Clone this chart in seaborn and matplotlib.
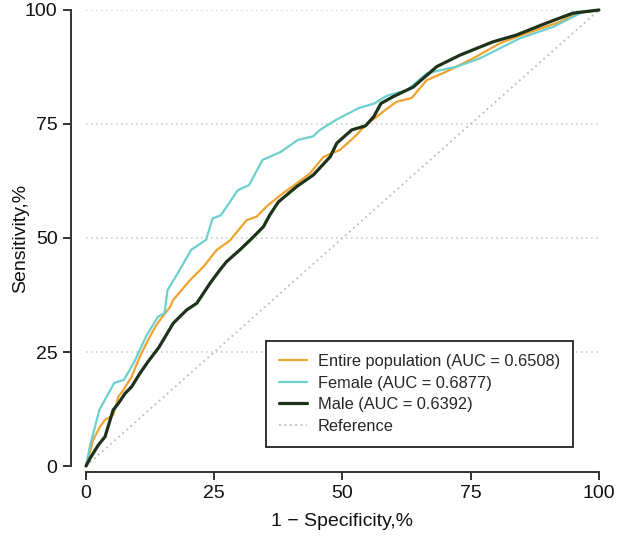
# ROC curves by sex
import pandas as pd
import seaborn as sns
import matplotlib.pyplot as plt

# values (1 - specificity %, sensitivity %)
entire_fpr = [0, 1.4, 2.7, 3.7, 5.3, 6.3, 7.3, 8.9, 10.5, 12.1, 13.5, 14.4, 16.4, 17.0, 20.3,
              22.9, 25.5, 28.1, 31.3, 33.3, 35.2, 37.8, 41.1, 43.7, 46.3, 49.5, 52.1, 54.7,
              56.7, 58.6, 60.6, 63.5, 66.4, 70.3, 75.5, 80.7, 85.9, 92.4, 95.7, 100]
entire_tpr = [0, 5.7, 8.6, 10.1, 11.2, 15.2, 16.7, 19.6, 24.0, 27.6, 30.5, 32.0, 34.9, 36.4, 40.8,
              43.7, 47.4, 49.5, 53.9, 54.7, 56.9, 59.3, 62.0, 64.2, 67.8, 69.3, 71.9, 74.9,
              76.6, 78.3, 79.9, 80.7, 84.6, 86.5, 89.4, 92.7, 94.9, 97.4, 99.3, 100]

female_fpr = [0, 0.8, 2.6, 5.5, 7.4, 9.4, 11.7, 14.0, 15.3, 15.9, 17.9, 20.5, 23.4, 24.7, 26.3,
              29.6, 31.8, 34.4, 38.0, 41.3, 44.3, 45.6, 48.9, 53.2, 56.2, 58.7, 62.7, 66.4,
              72.3, 76.8, 84.6, 91.1, 96.9, 100]
female_tpr = [0, 4.5, 12.3, 18.2, 18.9, 22.8, 28.4, 32.7, 33.5, 38.6, 42.3, 47.4, 49.6, 54.3, 55.0,
              60.5, 61.6, 67.1, 68.9, 71.5, 72.3, 73.7, 76.0, 78.5, 79.5, 81.2, 82.5, 86.1,
              87.6, 89.4, 93.8, 96.3, 99.6, 100]

male_fpr = [0, 0.8, 2.4, 3.7, 4.7, 5.3, 6.3, 7.6, 8.9, 10.5, 12.1, 14.2, 17.0, 19.6, 21.6, 24.2,
            26.1, 27.4, 30.0, 32.6, 34.6, 35.8, 37.5, 41.1, 44.3, 47.6, 48.9, 51.8, 54.5,
            56.1, 57.5, 59.9, 63.8, 68.4, 72.9, 79.3, 83.9, 89.7, 94.9, 100]
male_tpr = [0, 1.7, 4.6, 6.4, 10.1, 12.3, 13.7, 15.9, 17.4, 20.3, 22.9, 26.0, 31.3, 34.2, 35.7, 40.1,
            43.0, 44.8, 47.4, 50.2, 52.5, 55.0, 57.9, 61.3, 63.8, 67.8, 70.8, 73.7, 74.6,
            76.6, 79.5, 81.0, 83.1, 87.6, 90.1, 93.0, 94.5, 97.1, 99.3, 100]

labels = ["Entire population (AUC = 0.6508)", "Female (AUC = 0.6877)", "Male (AUC = 0.6392)"]
colors = ["#F0A32F", "#6ECFCF", "#1D3319"]
widths = [1.6, 1.6, 2.3]

sns.set_style("ticks")
plt.rcParams['font.family'] = ['Liberation Sans', 'DejaVu Sans']

fig = plt.figure(figsize=(6.17, 5.37), dpi=100)
ax = fig.add_axes([0.1394, 0.1322, 0.8313, 0.8492])

for y in [25, 50, 75, 100]:
    ax.axhline(y, color="#CFCFCF", lw=1.2, ls=(0, (1, 2)), zorder=0)

series = [(entire_fpr, entire_tpr), (female_fpr, female_tpr), (male_fpr, male_tpr)]
for (fx, ty), lab, col, lw in zip(series, labels, colors, widths):
    df = pd.DataFrame({"fpr": fx, "tpr": ty})
    sns.lineplot(data=df, x="fpr", y="tpr", sort=False, estimator=None, color=col,
                 lw=lw, label=lab, ax=ax, clip_on=False, zorder=3)

sns.lineplot(x=[0, 100], y=[0, 100], color="#BBBBBB", lw=1.3, ls=(0, (1, 2)),
             label="Reference", ax=ax, zorder=2)

ax.set_xlim(0, 100)
ax.set_ylim(0, 100)
ax.set_xticks([0, 25, 50, 75, 100])
ax.set_yticks([0, 25, 50, 75, 100])
ax.tick_params(labelsize=14, length=6, width=1.4, color="#333333", labelcolor="#111111")
ax.set_xlabel("1 \u2212 Specificity,%", fontsize=14, color="#111111", labelpad=8)
ax.set_ylabel("Sensitivity,%", fontsize=14, color="#111111", labelpad=-3)
sns.despine(ax=ax, offset={"left": 11, "bottom": 4}, trim=True)
for s in ["left", "bottom"]:
    ax.spines[s].set_linewidth(1.4)
    ax.spines[s].set_color("#333333")

leg = ax.legend(loc="lower right", bbox_to_anchor=(0.949, 0.042), borderaxespad=0,
                fontsize=11.8, frameon=True, fancybox=False, edgecolor="#222222",
                framealpha=1, handlelength=1.7, handletextpad=0.65, borderpad=0.8,
                labelspacing=0.4)
leg.get_frame().set_linewidth(1.3)

fig.savefig("out.png", dpi=100)
